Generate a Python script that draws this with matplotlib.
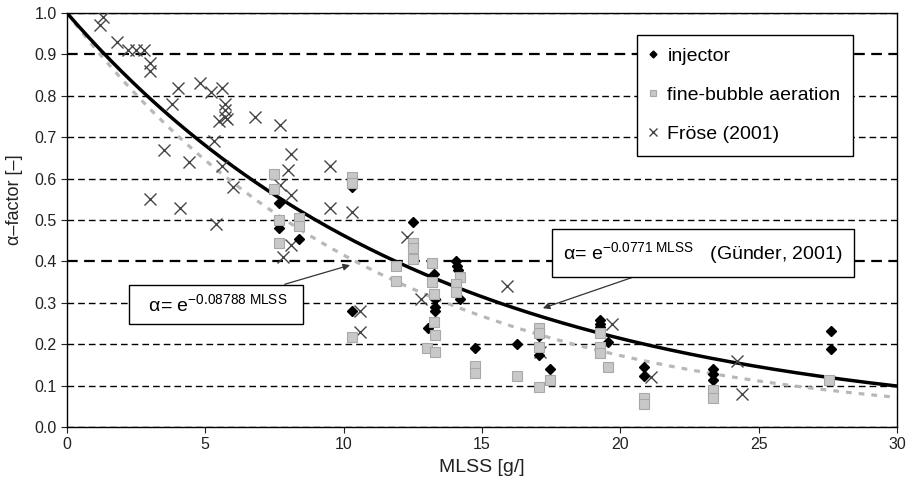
import numpy as np
import matplotlib
matplotlib.use('Agg')
import matplotlib.pyplot as plt

plt.rcParams['font.family'] = ['Liberation Sans', 'DejaVu Sans']
plt.rcParams['mathtext.fontset'] = 'custom'
plt.rcParams['mathtext.rm'] = 'Liberation Sans'
plt.rcParams['mathtext.it'] = 'Liberation Sans:italic'

# Fröse (2001)
froese_x = [1.2, 1.3, 1.8, 2.2, 2.5, 2.8, 3.0, 3.0, 3.0, 3.5, 3.8, 4.0, 4.1, 4.4,
            4.8, 5.2, 5.6, 5.3, 5.4, 5.5, 5.7, 5.7, 5.7, 5.8, 5.6, 6.0, 6.8, 7.7,
            8.1, 8.0, 7.7, 8.1, 8.1, 7.8, 9.5, 9.5, 10.3, 10.6, 10.6, 12.3, 12.8,
            15.9, 17.1, 19.7, 21.1, 24.2, 24.4]
froese_y = [0.97, 0.99, 0.93, 0.91, 0.91, 0.91, 0.88, 0.86, 0.55, 0.67, 0.78, 0.82, 0.53, 0.64,
            0.83, 0.81, 0.82, 0.69, 0.49, 0.74, 0.78, 0.765, 0.75, 0.745, 0.63, 0.58, 0.75, 0.73,
            0.66, 0.62, 0.585, 0.56, 0.44, 0.41, 0.63, 0.53, 0.52, 0.28, 0.23, 0.46, 0.31,
            0.34, 0.18, 0.25, 0.12, 0.16, 0.08]

# injector
inj_x = [7.65, 7.65, 8.4, 10.3, 10.3, 12.5, 12.5, 13.25, 13.3, 13.3, 13.3, 13.05, 14.05, 14.1,
         14.15, 14.2, 14.75, 16.25, 17.05, 17.05, 17.45, 19.25, 19.25, 19.25, 19.55, 20.85,
         20.85, 23.35, 23.35, 23.35, 27.6, 27.6]
inj_y = [0.54, 0.48, 0.455, 0.58, 0.28, 0.495, 0.425, 0.37, 0.31, 0.29, 0.28, 0.24, 0.40, 0.39,
         0.38, 0.31, 0.19, 0.20, 0.22, 0.175, 0.14, 0.258, 0.25, 0.242, 0.205, 0.145,
         0.122, 0.14, 0.127, 0.114, 0.232, 0.188]

# fine-bubble aeration
fb_x = [7.5, 7.5, 7.65, 7.65, 8.4, 8.4, 10.3, 10.3, 10.3, 11.9, 11.9, 12.5, 12.5, 12.5,
        13.2, 13.2, 13.25, 13.25, 13.3, 13.0, 13.3, 14.2, 14.05, 14.05, 14.75, 14.75, 16.25,
        17.05, 17.05, 17.05, 17.05, 17.45, 19.25, 19.25, 19.25, 19.55, 20.85, 20.85,
        23.35, 23.35, 27.55]
fb_y = [0.61, 0.575, 0.50, 0.445, 0.505, 0.485, 0.603, 0.589, 0.218, 0.39, 0.353, 0.444, 0.432, 0.405,
        0.397, 0.351, 0.321, 0.254, 0.222, 0.19, 0.182, 0.363, 0.345, 0.327, 0.148, 0.13, 0.124,
        0.238, 0.228, 0.194, 0.096, 0.114, 0.226, 0.194, 0.178, 0.146, 0.069, 0.056,
        0.089, 0.069, 0.114]

# Exponenten der Kurven alpha = exp(-k * MLSS)
k_guender = 0.0771
k_fit = 0.08788

fig = plt.figure(figsize=(9.1, 4.87), dpi=100)
ax = fig.add_axes([0.0736, 0.1232, 0.9121, 0.8501])

mlss = np.linspace(0, 30, 301)
ax.plot(mlss, np.exp(-k_fit * mlss), color='#b8b8b8', lw=2.3, ls=(0, (1.8, 2.2)), zorder=2)
ax.plot(mlss, np.exp(-k_guender * mlss), color='black', lw=2.5, zorder=3)

h_fr, = ax.plot(froese_x, froese_y, ls='none', marker='x', ms=8, mew=1.0,
                color='#454545', label='Fröse (2001)', zorder=4)
h_inj, = ax.plot(inj_x, inj_y, ls='none', marker='D', ms=5, color='black',
                 label='injector', zorder=5)
h_fb, = ax.plot(fb_x, fb_y, ls='none', marker='s', ms=6.5, mfc='#c8c8c8', mec='#a8a8a8',
                mew=0.8, label='fine-bubble aeration', zorder=6)

ax.set_xlim(0, 30)
ax.set_ylim(0, 1.0)
ax.set_xticks(range(0, 31, 5))
ax.set_yticks(np.arange(0, 1.01, 0.1))
ax.set_yticklabels(['%.1f' % v for v in np.arange(0, 1.01, 0.1)])
ax.tick_params(direction='out', length=4, labelsize=11.5, colors='#222222')

ax.grid(axis='y', color='black', lw=1.0, ls=(0, (4.8, 2.9)))
ax.set_axisbelow(True)
gl = ax.get_ygridlines()
for i in (4, 9):
    gl[i].set_linewidth(1.6)

for s in ax.spines.values():
    s.set_linewidth(1.0)

ax.set_xlabel('MLSS [g/]', fontsize=14, color='#222222', labelpad=5)
ax.set_ylabel('α–factor [–]', fontsize=13, color='#222222')
ax.yaxis.set_label_coords(-0.053, 0.548)

leg = ax.legend(handles=[h_inj, h_fb, h_fr], loc='upper left', bbox_to_anchor=(0.687, 0.947),
                fontsize=14, frameon=True, fancybox=False, framealpha=1, markerscale=0.7,
                handlelength=0.35, handletextpad=0.55, labelspacing=1.1, borderpad=0.65,
                borderaxespad=0)
leg.get_frame().set_edgecolor('black')
leg.get_frame().set_linewidth(1.0)
leg.set_zorder(10)

arrow = dict(arrowstyle='-|>', color='#333333', lw=0.9, mutation_scale=10, shrinkA=0, shrinkB=0)

ax.annotate('  α= e$^{\\mathregular{-0.08788\\ MLSS}}$  ', xy=(10.23, 0.391),
            xytext=(5.38, 0.296), fontsize=14, ha='center', va='center',
            bbox=dict(boxstyle='square,pad=0.45', fc='white', ec='black', lw=1.0),
            arrowprops=arrow, zorder=11)
ax.annotate('α= e$^{\\mathregular{-0.0771\\ MLSS}}$   (Günder, 2001)', xy=(17.2, 0.287),
            xytext=(22.99, 0.42), fontsize=14, ha='center', va='center',
            bbox=dict(boxstyle='square,pad=0.57', fc='white', ec='black', lw=1.0),
            arrowprops=arrow, zorder=11)

fig.savefig('out.png', dpi=100)
